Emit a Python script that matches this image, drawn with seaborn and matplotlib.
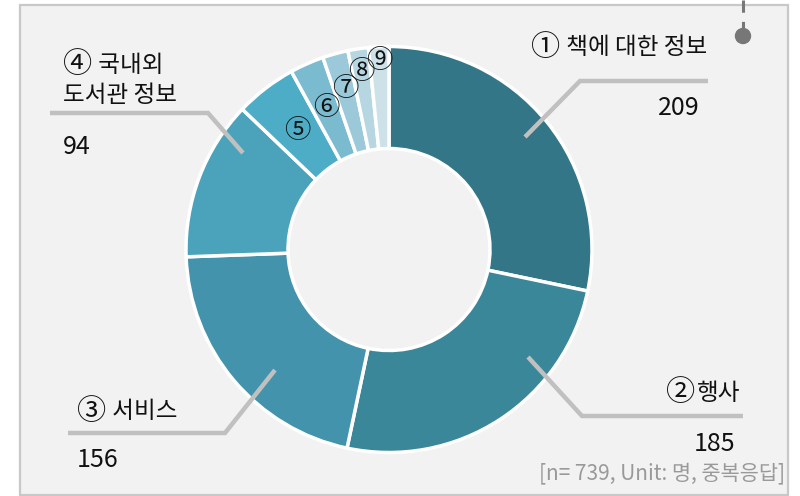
import matplotlib
matplotlib.use("Agg")
import matplotlib.pyplot as plt
from matplotlib.patches import Rectangle, Circle
import seaborn as sns
import numpy as np

# ---- data ----
categories = ["① 책에 대한 정보", "②행사", "③ 서비스", "④ 국내외\n도서관 정보", "⑤", "⑥", "⑦", "⑧", "⑨"]
values = [209, 185, 156, 94, 36, 20, 15, 12, 12]
value_labels = ["209", "185", "156", "94"]
footnote = "[n= 739, Unit: 명, 중복응답]"
colors = ["#337687", "#3a8799", "#4293ab", "#4aa3bb", "#4eadc6",
          "#7bbbd0", "#9bc9da", "#b6d6e2", "#cde1e9"]

sns.set_theme(style="white")
plt.rcParams['font.family'] = ['Noto Sans CJK KR', 'DejaVu Sans']

W, H = 800, 496
fig = plt.figure(figsize=(W / 100, H / 100), dpi=100, facecolor="white")
ax = fig.add_axes([0, 0, 1, 1])
ax.set_xlim(0, W)
ax.set_ylim(0, H)
ax.set_aspect("equal")
ax.axis("off")
renderer = fig.canvas.get_renderer()

def Y(py):
    return H - py

# panel
ax.add_patch(Rectangle((20, Y(495)), 768, 490, facecolor="#f2f2f2",
                       edgecolor="#c8c8c8", lw=1.6, zorder=0))

# dashed connector and dot at top right
ax.plot([743, 743], [Y(0), Y(28)], color="#777777", lw=2.2,
        linestyle=(0, (4, 3)), zorder=1, solid_capstyle="butt")
ax.add_patch(Circle((743, Y(36)), 7.5, color="#777777", zorder=2))

# donut
cx, cy, R = 389, Y(249.5), 203
wedges, _ = ax.pie(values, colors=colors, startangle=90, counterclock=False,
                   radius=R, center=(cx, cy), frame=True,
                   wedgeprops=dict(width=102, edgecolor="white", linewidth=2.5))
ax.set_xlim(0, W)
ax.set_ylim(0, H)
ax.axis("off")

tc = "#111111"
circ_fs = 21
small_fs = 19

# small circled labels inside the ring
small_r = [150, 155, 167, 180, 189]
total = sum(values)
cum = 0
mids = []
for v in values:
    mids.append(90 - (cum + v / 2) / total * 360)
    cum += v
for i, r in zip(range(4, 9), small_r):
    a = np.deg2rad(mids[i])
    ax.text(cx + r * np.cos(a), cy + r * np.sin(a), categories[i],
            ha="center", va="center", fontsize=small_fs, color=tc, zorder=5)

# leader lines
lc = "#c0c0c0"
lw = 3.2
leaders = [
    [(525, 137), (580, 81), (708, 81)],
    [(528, 357), (582, 416), (743, 416)],
    [(275, 370), (225, 433), (68, 433)],
    [(243, 153), (208, 113), (50, 113)],
]
for pts in leaders:
    xs = [p[0] for p in pts]
    ys = [Y(p[1]) for p in pts]
    ax.plot(xs, ys, color=lc, lw=lw, zorder=4, solid_capstyle="butt",
            solid_joinstyle="miter")

fs = 17

def label(x, py, text, ha):
    """Draw a label whose leading circled number is rendered a bit larger."""
    circ, rest = text[0], text[1:]
    if ha == "right":
        t = ax.text(x, Y(py), rest, ha="right", va="center", fontsize=fs, color=tc)
        bb = t.get_window_extent(renderer)
        ax.text(bb.x0 - 1, Y(py), circ, ha="right", va="center", fontsize=circ_fs, color=tc)
    else:
        t = ax.text(x, Y(py), circ, ha="left", va="center", fontsize=circ_fs, color=tc)
        bb = t.get_window_extent(renderer)
        ax.text(bb.x1 + 1, Y(py), rest, ha="left", va="center", fontsize=fs, color=tc)

label(707, 48, categories[0], "right")
label(740, 393, categories[1], "right")
label(77, 412, categories[2], "left")
line1, line2 = categories[3].split("\n")
label(63, 65, line1, "left")
ax.text(63, Y(95), line2, ha="left", va="center", fontsize=fs, color=tc)

# values
vfs = 18
ax.text(700, Y(108), value_labels[0], ha="right", va="center", fontsize=vfs, color=tc)
ax.text(735, Y(444), value_labels[1], ha="right", va="center", fontsize=vfs, color=tc)
ax.text(77, Y(460), value_labels[2], ha="left", va="center", fontsize=vfs, color=tc)
ax.text(63, Y(147), value_labels[3], ha="left", va="center", fontsize=vfs, color=tc)

ax.text(785, Y(473), footnote, ha="right", va="center", fontsize=15, color="#999999")

fig.savefig("out.png", dpi=100, facecolor="white")
